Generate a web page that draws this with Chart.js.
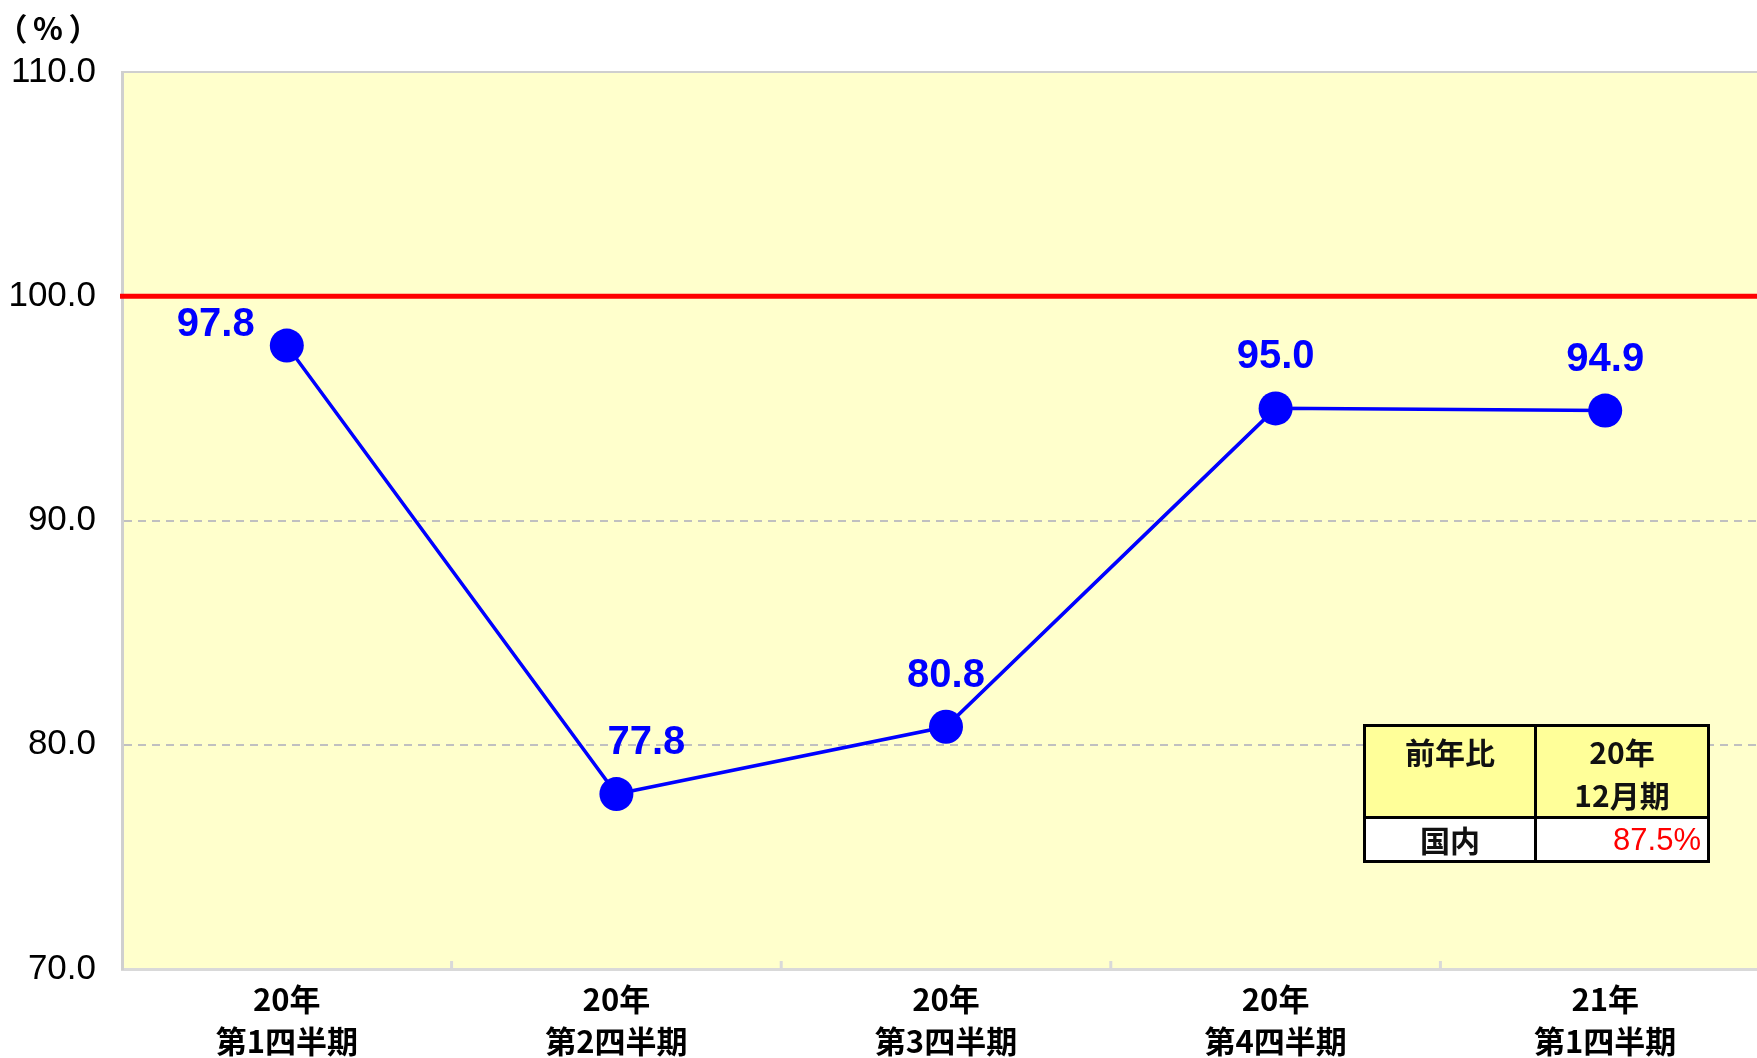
<!DOCTYPE html>
<html>
<head>
<meta charset="utf-8">
<script src="https://cdn.jsdelivr.net/npm/chart.js@4.4.1/dist/chart.umd.min.js"></script>
<style>
  html, body { margin: 0; padding: 0; background: #fff; overflow: hidden; }
  #outer { position: relative; width: 1757px; height: 1058px; overflow: hidden; }
  #wrap { position: absolute; left: 0; top: 0; width: 1772px; height: 1058px; }
  #trendChart { display: block; }
  #ratio {
    position: absolute; left: 1363px; top: 724px;
    border-collapse: collapse; border: 3px solid #000;
    font-family: "Noto Sans CJK JP", sans-serif; font-weight: bold;
    font-size: 30px; color: #111;
  }
  #ratio td { border: 3px solid #000; padding: 0; text-align: center; }
  #ratio .head td { background: #ffff99; height: 83px; vertical-align: top; line-height: 43px; padding-top: 3px; }
  #ratio .body td { background: #fff; height: 41px; line-height: 41px; }
  #ratio .c1 { width: 168px; }
  #ratio .c2 { width: 164px; }
  #ratio .val { color: #ff0000; text-align: right; padding-right: 6px; font-family: "Liberation Sans", Arial, sans-serif; font-weight: normal; font-size: 31px; }
</style>
</head>
<body>
<div id="outer">
  <div id="wrap">
    <canvas id="trendChart" width="1772" height="1058"></canvas>
  </div>
  <table id="ratio">
    <tr class="head"><td class="c1">前年比</td><td class="c2">20年<br>12月期</td></tr>
    <tr class="body"><td class="c1">国内</td><td class="c2 val">87.5%</td></tr>
  </table>
</div>
<script>
const quarterLabels = [
  ["20年", "第1四半期"],
  ["20年", "第2四半期"],
  ["20年", "第3四半期"],
  ["20年", "第4四半期"],
  ["21年", "第1四半期"],
];
const yoyValues = [97.8, 77.8, 80.8, 95.0, 94.9];
const baseLine = 100;
const yTicks = [70, 80, 90, 100, 110];

// label offsets (px) relative to each point
const labelDx = [-71, 30, 0, 0, 0];
const labelDy = [-21, -51, -51, -51, -51];

const chartBg = {
  id: "chartBg",
  beforeDraw(chart) {
    const { ctx, chartArea: a } = chart;
    ctx.save();
    ctx.fillStyle = "#ffffcc";
    ctx.fillRect(a.left, a.top, a.right - a.left, a.bottom - a.top);
    ctx.restore();
  },
  beforeDatasetsDraw(chart) {
    const { ctx, chartArea: a, scales } = chart;
    ctx.save();
    // top frame line
    ctx.strokeStyle = "#cfcfcf";
    ctx.lineWidth = 2;
    ctx.beginPath();
    ctx.moveTo(a.left, scales.y.getPixelForValue(110));
    ctx.lineTo(a.right, scales.y.getPixelForValue(110));
    ctx.stroke();
    // 100% reference line
    const y100 = scales.y.getPixelForValue(baseLine);
    ctx.strokeStyle = "#ff0000";
    ctx.lineWidth = 5;
    ctx.beginPath();
    ctx.moveTo(a.left - 2, y100);
    ctx.lineTo(a.right, y100);
    ctx.stroke();
    // small tick marks between categories
    ctx.strokeStyle = "#d9d9d9";
    ctx.lineWidth = 3;
    const x = scales.x;
    for (let i = 0; i < quarterLabels.length - 1; i++) {
      const px = (x.getPixelForTick(i) + x.getPixelForTick(i + 1)) / 2;
      ctx.beginPath();
      ctx.moveTo(px, a.bottom);
      ctx.lineTo(px, a.bottom - 8);
      ctx.stroke();
    }
    ctx.restore();
  },
  afterDatasetsDraw(chart) {
    const { ctx } = chart;
    const meta = chart.getDatasetMeta(0);
    ctx.save();
    ctx.fillStyle = "#0000ff";
    ctx.font = "bold 40px 'Liberation Sans', Arial, sans-serif";
    ctx.textAlign = "center";
    ctx.textBaseline = "middle";
    meta.data.forEach(function (pt, i) {
      ctx.fillText(yoyValues[i].toFixed(1), pt.x + labelDx[i], pt.y + labelDy[i]);
    });
    // unit label
    ctx.fillStyle = "#000";
    ctx.font = "bold 31px 'Noto Sans CJK JP', sans-serif";
    ctx.fillText("（", 12, 28);
    ctx.fillText("%", 48, 28);
    ctx.fillText("）", 84, 28);
    ctx.restore();
  },
};

new Chart(document.getElementById("trendChart").getContext("2d"), {
  type: "line",
  data: {
    labels: quarterLabels,
    datasets: [
      {
        data: yoyValues,
        borderColor: "#0000ff",
        backgroundColor: "#0000ff",
        borderWidth: 3.5,
        pointRadius: 17,
        pointHoverRadius: 17,
        pointBackgroundColor: "#0000ff",
        pointBorderWidth: 0,
        tension: 0,
      },
    ],
  },
  options: {
    responsive: false,
    animation: false,
    layout: { autoPadding: false, padding: { top: 72, left: 0, right: 2, bottom: 0 } },
    plugins: {
      legend: { display: false },
      tooltip: { enabled: false },
    },
    scales: {
      x: {
        offset: true,
        grid: { display: false, drawTicks: false },
        border: { display: true, color: "#d9d9d9", width: 3 },
        ticks: {
          color: "#000",
          padding: 10,
          maxRotation: 0,
          font: { family: "'Noto Sans CJK JP', sans-serif", size: 31, weight: "bold", lineHeight: 1.33 },
        },
        afterFit(scale) { scale.height = 89; },
      },
      y: {
        min: 70,
        max: 110,
        afterBuildTicks(scale) { scale.ticks = yTicks.map(v => ({ value: v })); },
        grid: {
          drawTicks: false,
          color(c) { return (c.tick && (c.tick.value === 80 || c.tick.value === 90)) ? "#c0c0c0" : "rgba(0,0,0,0)"; },
          lineWidth: 2,
        },
        border: { display: true, color: "#cfcfcf", width: 3, dash: [8, 6] },
        ticks: {
          color: "#000",
          padding: 26,
          font: { family: "'Liberation Sans', Arial, sans-serif", size: 35 },
          callback: v => Number(v).toFixed(1),
        },
        afterFit(scale) { scale.width = 122; },
      },
    },
  },
  plugins: [chartBg],
});
</script>
</body>
</html>
